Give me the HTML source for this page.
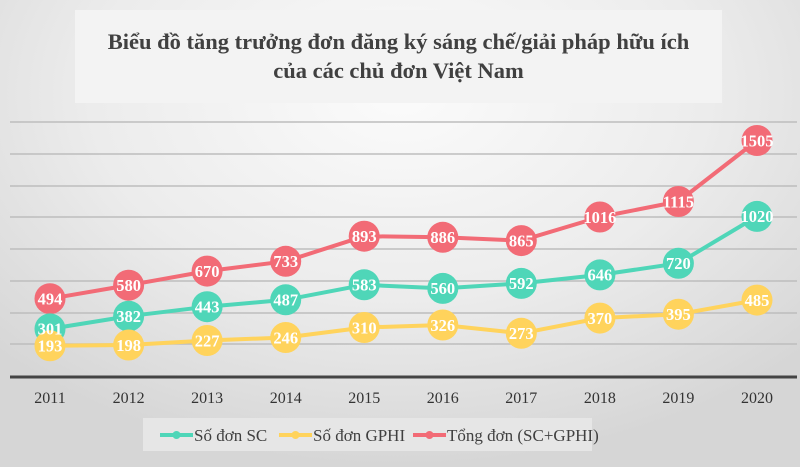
<!DOCTYPE html>
<html><head><meta charset="utf-8"><style>
html,body{margin:0;padding:0}
body{width:800px;height:467px;overflow:hidden;background:radial-gradient(ellipse 70% 80% at 50% 20%,#fbfbfb 0%,#ececec 55%,#d6d6d6 100%);font-family:"Liberation Serif",serif;position:relative}
.title{position:absolute;left:75px;top:10px;width:647px;height:93px;background:#f3f3f3;box-sizing:border-box;padding-top:17px;text-align:center;font-weight:bold;font-size:22.5px;color:#404040;line-height:29px}
</style></head><body>
<div class="title">Biểu đồ tăng trưởng đơn đăng ký sáng chế/giải pháp hữu ích<br>của các chủ đơn Việt Nam</div>
<svg width="800" height="467" style="position:absolute;left:0;top:0">
<g stroke="#bdbdbd" stroke-width="1.5">
<line x1="10" x2="797" y1="122" y2="122"/><line x1="10" x2="797" y1="154" y2="154"/><line x1="10" x2="797" y1="186" y2="186"/><line x1="10" x2="797" y1="217" y2="217"/><line x1="10" x2="797" y1="249" y2="249"/><line x1="10" x2="797" y1="281" y2="281"/><line x1="10" x2="797" y1="313" y2="313"/><line x1="10" x2="797" y1="344" y2="344"/>
</g>
<line x1="10" x2="797" y1="377" y2="377" stroke="#444" stroke-width="3"/>
<g font-size="16" fill="#333" text-anchor="middle">
<text x="50" y="403">2011</text><text x="128.6" y="403">2012</text><text x="207.1" y="403">2013</text><text x="285.7" y="403">2014</text><text x="364.2" y="403">2015</text><text x="442.8" y="403">2016</text><text x="521.3" y="403">2017</text><text x="599.9" y="403">2018</text><text x="678.4" y="403">2019</text><text x="757" y="403">2020</text>
</g>
<g fill="none" stroke-width="4" stroke-linejoin="round">
<polyline stroke="#f26b76" points="50,298.7 128.6,285.2 207.1,271.1 285.7,261.3 364.2,236.2 442.8,237.3 521.3,240.6 599.9,217 678.4,201.5 757,140.5"/>
<polyline stroke="#4fd6b8" points="50,328.9 128.6,316.2 207.1,306.7 285.7,299.8 364.2,284.8 442.8,288.4 521.3,283.4 599.9,274.9 678.4,263.3 757,216.4"/>
<polyline stroke="#ffd35c" points="50,345.8 128.6,345 207.1,340.5 285.7,337.5 364.2,327.5 442.8,325 521.3,333.3 599.9,318.1 678.4,314.2 757,300.1"/>
</g>
<g fill="#f26b76">
<circle cx="50" cy="298.7" r="15.5"/><circle cx="128.6" cy="285.2" r="15.5"/><circle cx="207.1" cy="271.1" r="15.5"/><circle cx="285.7" cy="261.3" r="15.5"/><circle cx="364.2" cy="236.2" r="15.5"/><circle cx="442.8" cy="237.3" r="15.5"/><circle cx="521.3" cy="240.6" r="15.5"/><circle cx="599.9" cy="217" r="15.5"/><circle cx="678.4" cy="201.5" r="15.5"/><circle cx="757" cy="140.5" r="15.5"/>
</g>
<g fill="#4fd6b8">
<circle cx="50" cy="328.9" r="15.5"/><circle cx="128.6" cy="316.2" r="15.5"/><circle cx="207.1" cy="306.7" r="15.5"/><circle cx="285.7" cy="299.8" r="15.5"/><circle cx="364.2" cy="284.8" r="15.5"/><circle cx="442.8" cy="288.4" r="15.5"/><circle cx="521.3" cy="283.4" r="15.5"/><circle cx="599.9" cy="274.9" r="15.5"/><circle cx="678.4" cy="263.3" r="15.5"/><circle cx="757" cy="216.4" r="15.5"/>
</g>
<g fill="#ffd35c">
<circle cx="50" cy="345.8" r="15.5"/><circle cx="128.6" cy="345" r="15.5"/><circle cx="207.1" cy="340.5" r="15.5"/><circle cx="285.7" cy="337.5" r="15.5"/><circle cx="364.2" cy="327.5" r="15.5"/><circle cx="442.8" cy="325" r="15.5"/><circle cx="521.3" cy="333.3" r="15.5"/><circle cx="599.9" cy="318.1" r="15.5"/><circle cx="678.4" cy="314.2" r="15.5"/><circle cx="757" cy="300.1" r="15.5"/>
</g>
<g fill="#fff" font-weight="bold" font-size="16.5" text-anchor="middle">
<text x="50" y="304.5">494</text><text x="128.6" y="291">580</text><text x="207.1" y="276.9">670</text><text x="285.7" y="267.1">733</text><text x="364.2" y="242">893</text><text x="442.8" y="243.1">886</text><text x="521.3" y="246.4">865</text><text x="599.9" y="222.8">1016</text><text x="678.4" y="207.3">1115</text><text x="757" y="146.3">1505</text>
<text x="50" y="334.7">301</text><text x="128.6" y="322">382</text><text x="207.1" y="312.5">443</text><text x="285.7" y="305.6">487</text><text x="364.2" y="290.6">583</text><text x="442.8" y="294.2">560</text><text x="521.3" y="289.2">592</text><text x="599.9" y="280.7">646</text><text x="678.4" y="269.1">720</text><text x="757" y="222.2">1020</text>
<text x="50" y="351.6">193</text><text x="128.6" y="350.8">198</text><text x="207.1" y="346.3">227</text><text x="285.7" y="343.3">246</text><text x="364.2" y="333.3">310</text><text x="442.8" y="330.8">326</text><text x="521.3" y="339.1">273</text><text x="599.9" y="323.9">370</text><text x="678.4" y="320">395</text><text x="757" y="305.9">485</text>
</g>
<rect x="143" y="418" width="449" height="33" fill="#e6e6e6"/>
<g stroke-width="4"><line x1="160" x2="193" y1="435" y2="435" stroke="#4fd6b8"/><line x1="279" x2="312" y1="435" y2="435" stroke="#ffd35c"/><line x1="413" x2="446" y1="435" y2="435" stroke="#f26b76"/></g>
<circle cx="176.5" cy="435" r="4" fill="#4fd6b8"/><circle cx="295.5" cy="435" r="4" fill="#ffd35c"/><circle cx="429.5" cy="435" r="4" fill="#f26b76"/>
<g font-size="17" fill="#404040"><text x="194" y="441">Số đơn SC</text><text x="313" y="441">Số đơn GPHI</text><text x="447" y="441">Tổng đơn (SC+GPHI)</text></g>
</svg>
</body></html>
